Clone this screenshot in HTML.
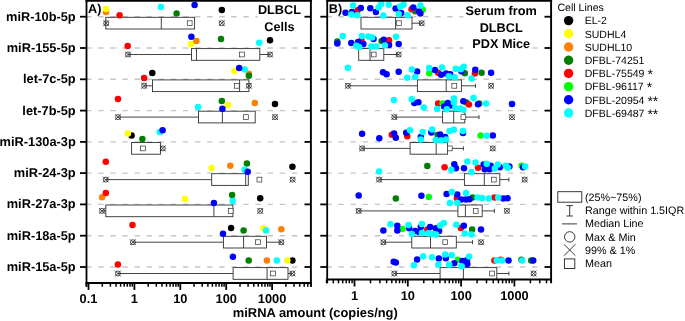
<!DOCTYPE html>
<html><head><meta charset="utf-8"><title>miRNA amount</title>
<style>html,body{margin:0;padding:0;background:#fff;overflow:hidden}body{width:685px;height:321px;position:relative}</style></head>
<body>
<svg text-rendering="geometricPrecision" width="685" height="321" viewBox="0 0 685 321" style="display:block;position:absolute;left:0;top:0;will-change:transform">
<rect width="685" height="321" fill="#fff"/>
<line x1="86.1" y1="16.7" x2="310.9" y2="16.7" stroke="#c6c6c6" stroke-width="1.4" stroke-dasharray="5.4 6.7"/>
<line x1="86.1" y1="48.0" x2="310.9" y2="48.0" stroke="#c6c6c6" stroke-width="1.4" stroke-dasharray="5.4 6.7"/>
<line x1="86.1" y1="79.3" x2="310.9" y2="79.3" stroke="#c6c6c6" stroke-width="1.4" stroke-dasharray="5.4 6.7"/>
<line x1="86.1" y1="110.6" x2="310.9" y2="110.6" stroke="#c6c6c6" stroke-width="1.4" stroke-dasharray="5.4 6.7"/>
<line x1="86.1" y1="141.9" x2="310.9" y2="141.9" stroke="#c6c6c6" stroke-width="1.4" stroke-dasharray="5.4 6.7"/>
<line x1="86.1" y1="173.1" x2="310.9" y2="173.1" stroke="#c6c6c6" stroke-width="1.4" stroke-dasharray="5.4 6.7"/>
<line x1="86.1" y1="204.4" x2="310.9" y2="204.4" stroke="#c6c6c6" stroke-width="1.4" stroke-dasharray="5.4 6.7"/>
<line x1="86.1" y1="235.7" x2="310.9" y2="235.7" stroke="#c6c6c6" stroke-width="1.4" stroke-dasharray="5.4 6.7"/>
<line x1="86.1" y1="267.0" x2="310.9" y2="267.0" stroke="#c6c6c6" stroke-width="1.4" stroke-dasharray="5.4 6.7"/>
<rect x="105.8" y="17.3" width="88.8" height="11.7" fill="#fff" stroke="#303030" stroke-width="0.9"/>
<line x1="161.3" y1="17.3" x2="161.3" y2="29.0" stroke="#303030" stroke-width="0.9"/>
<rect x="187.3" y="20.8" width="4.8" height="4.8" fill="#fff" stroke="#303030" stroke-width="0.7"/>
<g stroke="#1a1a1a" stroke-width="0.75" fill="none"><circle cx="106.2" cy="23.2" r="2.5"/><path d="M103.3 20.3L109.1 26.1M103.3 26.1L109.1 20.3"/></g>
<g stroke="#1a1a1a" stroke-width="0.75" fill="none"><circle cx="221.8" cy="23.2" r="2.5"/><path d="M218.9 20.3L224.7 26.1M218.9 26.1L224.7 20.3"/></g>
<line x1="128" y1="54.5" x2="191.5" y2="54.5" stroke="#303030" stroke-width="0.9"/>
<line x1="259.8" y1="54.5" x2="270" y2="54.5" stroke="#303030" stroke-width="0.9"/>
<rect x="191.5" y="48.6" width="68.3" height="11.7" fill="#fff" stroke="#303030" stroke-width="0.9"/>
<line x1="196.5" y1="48.6" x2="196.5" y2="60.3" stroke="#303030" stroke-width="0.9"/>
<rect x="239.6" y="52.1" width="4.8" height="4.8" fill="#fff" stroke="#303030" stroke-width="0.7"/>
<g stroke="#1a1a1a" stroke-width="0.75" fill="none"><circle cx="128" cy="54.5" r="2.5"/><path d="M125.1 51.6L130.9 57.4M125.1 57.4L130.9 51.6"/></g>
<g stroke="#1a1a1a" stroke-width="0.75" fill="none"><circle cx="270" cy="54.5" r="2.5"/><path d="M267.1 51.6L272.9 57.4M267.1 57.4L272.9 51.6"/></g>
<line x1="144.1" y1="85.8" x2="152.5" y2="85.8" stroke="#303030" stroke-width="0.9"/>
<rect x="152.5" y="79.9" width="96.4" height="11.7" fill="#fff" stroke="#303030" stroke-width="0.9"/>
<line x1="239.6" y1="79.9" x2="239.6" y2="91.6" stroke="#303030" stroke-width="0.9"/>
<rect x="234.4" y="83.4" width="4.8" height="4.8" fill="#fff" stroke="#303030" stroke-width="0.7"/>
<g stroke="#1a1a1a" stroke-width="0.75" fill="none"><circle cx="144.1" cy="85.8" r="2.5"/><path d="M141.2 82.9L147.0 88.7M141.2 88.7L147.0 82.9"/></g>
<g stroke="#1a1a1a" stroke-width="0.75" fill="none"><circle cx="248.9" cy="85.8" r="2.5"/><path d="M246.0 82.9L251.8 88.7M246.0 88.7L251.8 82.9"/></g>
<line x1="118" y1="117.1" x2="198.5" y2="117.1" stroke="#303030" stroke-width="0.9"/>
<rect x="198.5" y="111.2" width="56.7" height="11.7" fill="#fff" stroke="#303030" stroke-width="0.9"/>
<line x1="222.4" y1="111.2" x2="222.4" y2="122.9" stroke="#303030" stroke-width="0.9"/>
<rect x="243.5" y="114.7" width="4.8" height="4.8" fill="#fff" stroke="#303030" stroke-width="0.7"/>
<g stroke="#1a1a1a" stroke-width="0.75" fill="none"><circle cx="118" cy="117.1" r="2.5"/><path d="M115.1 114.2L120.9 120.0M115.1 120.0L120.9 114.2"/></g>
<g stroke="#1a1a1a" stroke-width="0.75" fill="none"><circle cx="275" cy="117.1" r="2.5"/><path d="M272.1 114.2L277.9 120.0M272.1 120.0L277.9 114.2"/></g>
<rect x="131.6" y="142.5" width="29.0" height="11.7" fill="#fff" stroke="#303030" stroke-width="0.9"/>
<rect x="140.6" y="146.0" width="4.8" height="4.8" fill="#fff" stroke="#303030" stroke-width="0.7"/>
<g stroke="#1a1a1a" stroke-width="0.75" fill="none"><circle cx="162.8" cy="148.4" r="2.5"/><path d="M159.9 145.5L165.7 151.3M159.9 151.3L165.7 145.5"/></g>
<line x1="105.8" y1="179.6" x2="211.7" y2="179.6" stroke="#303030" stroke-width="0.9"/>
<rect x="211.7" y="173.7" width="36.6" height="11.7" fill="#fff" stroke="#303030" stroke-width="0.9"/>
<line x1="245.7" y1="173.7" x2="245.7" y2="185.4" stroke="#303030" stroke-width="0.9"/>
<rect x="257.0" y="177.2" width="4.8" height="4.8" fill="#fff" stroke="#303030" stroke-width="0.7"/>
<g stroke="#1a1a1a" stroke-width="0.75" fill="none"><circle cx="105.8" cy="179.6" r="2.5"/><path d="M102.9 176.7L108.7 182.5M102.9 182.5L108.7 176.7"/></g>
<g stroke="#1a1a1a" stroke-width="0.75" fill="none"><circle cx="292.6" cy="179.6" r="2.5"/><path d="M289.7 176.7L295.5 182.5M289.7 182.5L295.5 176.7"/></g>
<line x1="102" y1="210.9" x2="105.8" y2="210.9" stroke="#303030" stroke-width="0.9"/>
<rect x="105.8" y="205.0" width="127.1" height="11.7" fill="#fff" stroke="#303030" stroke-width="0.9"/>
<line x1="213.9" y1="205.0" x2="213.9" y2="216.7" stroke="#303030" stroke-width="0.9"/>
<rect x="228.3" y="208.5" width="4.8" height="4.8" fill="#fff" stroke="#303030" stroke-width="0.7"/>
<g stroke="#1a1a1a" stroke-width="0.75" fill="none"><circle cx="102" cy="210.9" r="2.5"/><path d="M99.1 208.0L104.9 213.8M99.1 213.8L104.9 208.0"/></g>
<g stroke="#1a1a1a" stroke-width="0.75" fill="none"><circle cx="260.2" cy="210.9" r="2.5"/><path d="M257.3 208.0L263.1 213.8M257.3 213.8L263.1 208.0"/></g>
<line x1="132.9" y1="242.2" x2="223.4" y2="242.2" stroke="#303030" stroke-width="0.9"/>
<line x1="266.5" y1="242.2" x2="281.3" y2="242.2" stroke="#303030" stroke-width="0.9"/>
<rect x="223.4" y="236.3" width="43.1" height="11.7" fill="#fff" stroke="#303030" stroke-width="0.9"/>
<line x1="243.6" y1="236.3" x2="243.6" y2="248.0" stroke="#303030" stroke-width="0.9"/>
<rect x="255.6" y="239.8" width="4.8" height="4.8" fill="#fff" stroke="#303030" stroke-width="0.7"/>
<g stroke="#1a1a1a" stroke-width="0.75" fill="none"><circle cx="132.9" cy="242.2" r="2.5"/><path d="M130.0 239.3L135.8 245.1M130.0 245.1L135.8 239.3"/></g>
<g stroke="#1a1a1a" stroke-width="0.75" fill="none"><circle cx="281.3" cy="242.2" r="2.5"/><path d="M278.4 239.3L284.2 245.1M278.4 245.1L284.2 239.3"/></g>
<line x1="117.9" y1="273.5" x2="233.1" y2="273.5" stroke="#303030" stroke-width="0.9"/>
<line x1="288" y1="273.5" x2="292.4" y2="273.5" stroke="#303030" stroke-width="0.9"/>
<rect x="233.1" y="267.6" width="54.9" height="11.7" fill="#fff" stroke="#303030" stroke-width="0.9"/>
<line x1="267.1" y1="267.6" x2="267.1" y2="279.3" stroke="#303030" stroke-width="0.9"/>
<rect x="270.6" y="271.1" width="4.8" height="4.8" fill="#fff" stroke="#303030" stroke-width="0.7"/>
<g stroke="#1a1a1a" stroke-width="0.75" fill="none"><circle cx="117.9" cy="273.5" r="2.5"/><path d="M115.0 270.6L120.8 276.4M115.0 276.4L120.8 270.6"/></g>
<g stroke="#1a1a1a" stroke-width="0.75" fill="none"><circle cx="292.4" cy="273.5" r="2.5"/><path d="M289.5 270.6L295.3 276.4M289.5 276.4L295.3 270.6"/></g>
<circle cx="221.8" cy="10.1" r="3.25" fill="#000000"/>
<circle cx="106" cy="12.1" r="3.25" fill="#ff8000"/>
<circle cx="106" cy="8.9" r="3.25" fill="#ffff00"/>
<circle cx="176.6" cy="13.6" r="3.25" fill="#008000"/>
<circle cx="119.6" cy="15.3" r="3.25" fill="#ff0000"/>
<circle cx="160.9" cy="6.9" r="3.25" fill="#00ffff"/>
<circle cx="194.6" cy="5.0" r="3.25" fill="#0000ff"/>
<circle cx="270" cy="40.3" r="3.25" fill="#000000"/>
<circle cx="191" cy="44.1" r="3.25" fill="#ffff00"/>
<circle cx="196.4" cy="41.1" r="3.25" fill="#ff8000"/>
<circle cx="221" cy="39" r="3.25" fill="#008000"/>
<circle cx="127.7" cy="46" r="3.25" fill="#ff0000"/>
<circle cx="259.2" cy="42.7" r="3.25" fill="#00ffff"/>
<circle cx="191.4" cy="36.8" r="3.25" fill="#0000ff"/>
<circle cx="152.3" cy="72.9" r="3.25" fill="#000000"/>
<circle cx="234.5" cy="71.1" r="3.25" fill="#ffff00"/>
<circle cx="248.9" cy="73.8" r="3.25" fill="#ff8000"/>
<circle cx="248.9" cy="75.8" r="3.25" fill="#008000"/>
<circle cx="144.1" cy="78.1" r="3.25" fill="#ff0000"/>
<circle cx="244.7" cy="69.5" r="3.25" fill="#00ffff"/>
<circle cx="239.2" cy="67.9" r="3.25" fill="#0000ff"/>
<circle cx="275" cy="103.9" r="3.25" fill="#000000"/>
<circle cx="228" cy="105" r="3.25" fill="#ffff00"/>
<circle cx="254.8" cy="103.1" r="3.25" fill="#ff8000"/>
<circle cx="221.8" cy="101.1" r="3.25" fill="#008000"/>
<circle cx="118" cy="99.1" r="3.25" fill="#ff0000"/>
<circle cx="198.1" cy="107" r="3.25" fill="#00ffff"/>
<circle cx="222.4" cy="108.8" r="3.25" fill="#0000ff"/>
<circle cx="131.6" cy="135.5" r="3.25" fill="#000000"/>
<circle cx="127.9" cy="133.6" r="3.25" fill="#ffff00"/>
<circle cx="142.4" cy="138.9" r="3.25" fill="#008000"/>
<circle cx="159.8" cy="132.1" r="3.25" fill="#00ffff"/>
<circle cx="162.6" cy="130.3" r="3.25" fill="#0000ff"/>
<circle cx="292.4" cy="166.8" r="3.25" fill="#000000"/>
<circle cx="211.5" cy="168" r="3.25" fill="#ffff00"/>
<circle cx="230.3" cy="165.7" r="3.25" fill="#ff8000"/>
<circle cx="246.9" cy="163.5" r="3.25" fill="#008000"/>
<circle cx="105.8" cy="161.7" r="3.25" fill="#ff0000"/>
<circle cx="244.7" cy="169.8" r="3.25" fill="#00ffff"/>
<circle cx="247.7" cy="171.8" r="3.25" fill="#0000ff"/>
<circle cx="260.2" cy="198.2" r="3.25" fill="#000000"/>
<circle cx="185" cy="199.1" r="3.25" fill="#ffff00"/>
<circle cx="102.1" cy="197.2" r="3.25" fill="#ff8000"/>
<circle cx="232.1" cy="195" r="3.25" fill="#008000"/>
<circle cx="105.8" cy="193.1" r="3.25" fill="#ff0000"/>
<circle cx="232.7" cy="201" r="3.25" fill="#00ffff"/>
<circle cx="213.9" cy="202.9" r="3.25" fill="#0000ff"/>
<circle cx="231.1" cy="228" r="3.25" fill="#000000"/>
<circle cx="263.5" cy="228.2" r="3.25" fill="#ffff00"/>
<circle cx="281.3" cy="229.2" r="3.25" fill="#ff8000"/>
<circle cx="243.6" cy="230.6" r="3.25" fill="#008000"/>
<circle cx="132.5" cy="225" r="3.25" fill="#ff0000"/>
<circle cx="266.1" cy="230.6" r="3.25" fill="#00ffff"/>
<circle cx="223" cy="233.8" r="3.25" fill="#0000ff"/>
<circle cx="292.4" cy="260.6" r="3.25" fill="#000000"/>
<circle cx="287.4" cy="260.6" r="3.25" fill="#ffff00"/>
<circle cx="266.9" cy="260.6" r="3.25" fill="#ff8000"/>
<circle cx="248.7" cy="260.6" r="3.25" fill="#008000"/>
<circle cx="117.9" cy="264.6" r="3.25" fill="#ff0000"/>
<circle cx="276.8" cy="260.6" r="3.25" fill="#00ffff"/>
<circle cx="232.9" cy="256.7" r="3.25" fill="#0000ff"/>
<rect x="257.6" y="3" width="46.5" height="34" fill="#fff"/>
<line x1="326.3" y1="16.7" x2="551.1" y2="16.7" stroke="#c6c6c6" stroke-width="1.4" stroke-dasharray="5.4 6.7"/>
<line x1="326.3" y1="48.0" x2="551.1" y2="48.0" stroke="#c6c6c6" stroke-width="1.4" stroke-dasharray="5.4 6.7"/>
<line x1="326.3" y1="79.3" x2="551.1" y2="79.3" stroke="#c6c6c6" stroke-width="1.4" stroke-dasharray="5.4 6.7"/>
<line x1="326.3" y1="110.6" x2="551.1" y2="110.6" stroke="#c6c6c6" stroke-width="1.4" stroke-dasharray="5.4 6.7"/>
<line x1="326.3" y1="141.9" x2="551.1" y2="141.9" stroke="#c6c6c6" stroke-width="1.4" stroke-dasharray="5.4 6.7"/>
<line x1="326.3" y1="173.1" x2="551.1" y2="173.1" stroke="#c6c6c6" stroke-width="1.4" stroke-dasharray="5.4 6.7"/>
<line x1="326.3" y1="204.4" x2="551.1" y2="204.4" stroke="#c6c6c6" stroke-width="1.4" stroke-dasharray="5.4 6.7"/>
<line x1="326.3" y1="235.7" x2="551.1" y2="235.7" stroke="#c6c6c6" stroke-width="1.4" stroke-dasharray="5.4 6.7"/>
<line x1="326.3" y1="267.0" x2="551.1" y2="267.0" stroke="#c6c6c6" stroke-width="1.4" stroke-dasharray="5.4 6.7"/>
<line x1="412" y1="23.2" x2="421.7" y2="23.2" stroke="#303030" stroke-width="0.9"/>
<rect x="361" y="17.3" width="51.0" height="11.7" fill="#fff" stroke="#303030" stroke-width="0.9"/>
<line x1="395.6" y1="17.3" x2="395.6" y2="29.0" stroke="#303030" stroke-width="0.9"/>
<rect x="396.5" y="20.8" width="4.8" height="4.8" fill="#fff" stroke="#303030" stroke-width="0.7"/>
<g stroke="#1a1a1a" stroke-width="0.75" fill="none"><circle cx="421.7" cy="23.2" r="2.5"/><path d="M418.8 20.3L424.6 26.1M418.8 26.1L424.6 20.3"/></g>
<line x1="383.8" y1="54.5" x2="398.7" y2="54.5" stroke="#303030" stroke-width="0.9"/>
<rect x="358.7" y="48.6" width="25.1" height="11.7" fill="#fff" stroke="#303030" stroke-width="0.9"/>
<line x1="370" y1="48.6" x2="370" y2="60.3" stroke="#303030" stroke-width="0.9"/>
<rect x="371.3" y="52.1" width="4.8" height="4.8" fill="#fff" stroke="#303030" stroke-width="0.7"/>
<g stroke="#1a1a1a" stroke-width="0.75" fill="none"><circle cx="398.7" cy="54.5" r="2.5"/><path d="M395.8 51.6L401.6 57.4M395.8 57.4L401.6 51.6"/></g>
<line x1="347.9" y1="85.8" x2="417.4" y2="85.8" stroke="#303030" stroke-width="0.9"/>
<line x1="461.4" y1="85.8" x2="475.5" y2="85.8" stroke="#303030" stroke-width="0.9"/>
<line x1="475.5" y1="83.8" x2="475.5" y2="87.8" stroke="#303030" stroke-width="0.9"/>
<rect x="417.4" y="79.9" width="44.0" height="11.7" fill="#fff" stroke="#303030" stroke-width="0.9"/>
<line x1="446.2" y1="79.9" x2="446.2" y2="91.6" stroke="#303030" stroke-width="0.9"/>
<rect x="451.9" y="83.4" width="4.8" height="4.8" fill="#fff" stroke="#303030" stroke-width="0.7"/>
<g stroke="#1a1a1a" stroke-width="0.75" fill="none"><circle cx="347.9" cy="85.8" r="2.5"/><path d="M345.0 82.9L350.8 88.7M345.0 88.7L350.8 82.9"/></g>
<g stroke="#1a1a1a" stroke-width="0.75" fill="none"><circle cx="491.1" cy="85.8" r="2.5"/><path d="M488.2 82.9L494.0 88.7M488.2 88.7L494.0 82.9"/></g>
<line x1="394.3" y1="117.1" x2="442.6" y2="117.1" stroke="#303030" stroke-width="0.9"/>
<line x1="464.8" y1="117.1" x2="479" y2="117.1" stroke="#303030" stroke-width="0.9"/>
<line x1="479" y1="115.1" x2="479" y2="119.1" stroke="#303030" stroke-width="0.9"/>
<rect x="442.6" y="111.2" width="22.2" height="11.7" fill="#fff" stroke="#303030" stroke-width="0.9"/>
<line x1="453.7" y1="111.2" x2="453.7" y2="122.9" stroke="#303030" stroke-width="0.9"/>
<rect x="461.0" y="114.7" width="4.8" height="4.8" fill="#fff" stroke="#303030" stroke-width="0.7"/>
<g stroke="#1a1a1a" stroke-width="0.75" fill="none"><circle cx="394.3" cy="117.1" r="2.5"/><path d="M391.4 114.2L397.2 120.0M391.4 120.0L397.2 114.2"/></g>
<g stroke="#1a1a1a" stroke-width="0.75" fill="none"><circle cx="512" cy="117.1" r="2.5"/><path d="M509.1 114.2L514.9 120.0M509.1 120.0L514.9 114.2"/></g>
<line x1="362.1" y1="148.4" x2="410.1" y2="148.4" stroke="#303030" stroke-width="0.9"/>
<line x1="447.6" y1="148.4" x2="463.4" y2="148.4" stroke="#303030" stroke-width="0.9"/>
<line x1="463.4" y1="146.4" x2="463.4" y2="150.4" stroke="#303030" stroke-width="0.9"/>
<rect x="410.1" y="142.5" width="37.5" height="11.7" fill="#fff" stroke="#303030" stroke-width="0.9"/>
<line x1="436.2" y1="142.5" x2="436.2" y2="154.2" stroke="#303030" stroke-width="0.9"/>
<rect x="447.4" y="146.0" width="4.8" height="4.8" fill="#fff" stroke="#303030" stroke-width="0.7"/>
<g stroke="#1a1a1a" stroke-width="0.75" fill="none"><circle cx="362.1" cy="148.4" r="2.5"/><path d="M359.2 145.5L365.0 151.3M359.2 151.3L365.0 145.5"/></g>
<g stroke="#1a1a1a" stroke-width="0.75" fill="none"><circle cx="492.8" cy="148.4" r="2.5"/><path d="M489.9 145.5L495.7 151.3M489.9 151.3L495.7 145.5"/></g>
<line x1="379.1" y1="179.6" x2="464.4" y2="179.6" stroke="#303030" stroke-width="0.9"/>
<line x1="499.8" y1="179.6" x2="508.9" y2="179.6" stroke="#303030" stroke-width="0.9"/>
<line x1="508.9" y1="177.6" x2="508.9" y2="181.6" stroke="#303030" stroke-width="0.9"/>
<rect x="464.4" y="173.7" width="35.4" height="11.7" fill="#fff" stroke="#303030" stroke-width="0.9"/>
<line x1="484.3" y1="173.7" x2="484.3" y2="185.4" stroke="#303030" stroke-width="0.9"/>
<rect x="491.4" y="177.2" width="4.8" height="4.8" fill="#fff" stroke="#303030" stroke-width="0.7"/>
<g stroke="#1a1a1a" stroke-width="0.75" fill="none"><circle cx="379.1" cy="179.6" r="2.5"/><path d="M376.2 176.7L382.0 182.5M376.2 182.5L382.0 176.7"/></g>
<g stroke="#1a1a1a" stroke-width="0.75" fill="none"><circle cx="524.7" cy="179.6" r="2.5"/><path d="M521.8 176.7L527.6 182.5M521.8 182.5L527.6 176.7"/></g>
<line x1="358.7" y1="210.9" x2="457.9" y2="210.9" stroke="#303030" stroke-width="0.9"/>
<line x1="482.2" y1="210.9" x2="494.4" y2="210.9" stroke="#303030" stroke-width="0.9"/>
<line x1="494.4" y1="208.9" x2="494.4" y2="212.9" stroke="#303030" stroke-width="0.9"/>
<rect x="457.9" y="205.0" width="24.3" height="11.7" fill="#fff" stroke="#303030" stroke-width="0.9"/>
<line x1="465.4" y1="205.0" x2="465.4" y2="216.7" stroke="#303030" stroke-width="0.9"/>
<rect x="473.3" y="208.5" width="4.8" height="4.8" fill="#fff" stroke="#303030" stroke-width="0.7"/>
<g stroke="#1a1a1a" stroke-width="0.75" fill="none"><circle cx="358.7" cy="210.9" r="2.5"/><path d="M355.8 208.0L361.6 213.8M355.8 213.8L361.6 208.0"/></g>
<g stroke="#1a1a1a" stroke-width="0.75" fill="none"><circle cx="506.9" cy="210.9" r="2.5"/><path d="M504.0 208.0L509.8 213.8M504.0 213.8L509.8 208.0"/></g>
<line x1="383.4" y1="242.2" x2="411.8" y2="242.2" stroke="#303030" stroke-width="0.9"/>
<line x1="456.3" y1="242.2" x2="472.5" y2="242.2" stroke="#303030" stroke-width="0.9"/>
<line x1="472.5" y1="240.2" x2="472.5" y2="244.2" stroke="#303030" stroke-width="0.9"/>
<rect x="411.8" y="236.3" width="44.5" height="11.7" fill="#fff" stroke="#303030" stroke-width="0.9"/>
<line x1="430.5" y1="236.3" x2="430.5" y2="248.0" stroke="#303030" stroke-width="0.9"/>
<rect x="442.8" y="239.8" width="4.8" height="4.8" fill="#fff" stroke="#303030" stroke-width="0.7"/>
<g stroke="#1a1a1a" stroke-width="0.75" fill="none"><circle cx="383.4" cy="242.2" r="2.5"/><path d="M380.5 239.3L386.3 245.1M380.5 245.1L386.3 239.3"/></g>
<g stroke="#1a1a1a" stroke-width="0.75" fill="none"><circle cx="481" cy="242.2" r="2.5"/><path d="M478.1 239.3L483.9 245.1M478.1 245.1L483.9 239.3"/></g>
<line x1="394.3" y1="273.5" x2="440.1" y2="273.5" stroke="#303030" stroke-width="0.9"/>
<line x1="496.8" y1="273.5" x2="508.9" y2="273.5" stroke="#303030" stroke-width="0.9"/>
<line x1="508.9" y1="271.5" x2="508.9" y2="275.5" stroke="#303030" stroke-width="0.9"/>
<rect x="440.1" y="267.6" width="56.7" height="11.7" fill="#fff" stroke="#303030" stroke-width="0.9"/>
<line x1="463.4" y1="267.6" x2="463.4" y2="279.3" stroke="#303030" stroke-width="0.9"/>
<rect x="489.7" y="271.1" width="4.8" height="4.8" fill="#fff" stroke="#303030" stroke-width="0.7"/>
<g stroke="#1a1a1a" stroke-width="0.75" fill="none"><circle cx="394.3" cy="273.5" r="2.5"/><path d="M391.4 270.6L397.2 276.4M391.4 276.4L397.2 270.6"/></g>
<g stroke="#1a1a1a" stroke-width="0.75" fill="none"><circle cx="533.6" cy="273.5" r="2.5"/><path d="M530.7 270.6L536.5 276.4M530.7 276.4L536.5 270.6"/></g>
<circle cx="415.2" cy="11.2" r="3.25" fill="#008000"/>
<circle cx="357.6" cy="10.3" r="3.25" fill="#ff0000"/>
<circle cx="411.5" cy="9.3" r="3.25" fill="#ff0000"/>
<circle cx="422.7" cy="9.7" r="3.25" fill="#00ff00"/>
<circle cx="345.5" cy="12.7" r="3.25" fill="#0000ff"/>
<circle cx="352" cy="12.1" r="3.25" fill="#0000ff"/>
<circle cx="360.8" cy="7.9" r="3.25" fill="#0000ff"/>
<circle cx="370.3" cy="8.2" r="3.25" fill="#0000ff"/>
<circle cx="375.9" cy="12.1" r="3.25" fill="#0000ff"/>
<circle cx="395.6" cy="8.4" r="3.25" fill="#0000ff"/>
<circle cx="401.2" cy="13.1" r="3.25" fill="#0000ff"/>
<circle cx="413.3" cy="7.5" r="3.25" fill="#0000ff"/>
<circle cx="419" cy="11.6" r="3.25" fill="#0000ff"/>
<circle cx="420.4" cy="13.5" r="3.25" fill="#0000ff"/>
<circle cx="353.1" cy="5.6" r="3.25" fill="#00ffff"/>
<circle cx="351.3" cy="14.6" r="3.25" fill="#00ffff"/>
<circle cx="357.4" cy="15.3" r="3.25" fill="#00ffff"/>
<circle cx="378.7" cy="7.5" r="3.25" fill="#00ffff"/>
<circle cx="381.2" cy="4.1" r="3.25" fill="#00ffff"/>
<circle cx="388.7" cy="4.7" r="3.25" fill="#00ffff"/>
<circle cx="383.4" cy="15.5" r="3.25" fill="#00ffff"/>
<circle cx="400.2" cy="6.5" r="3.25" fill="#00ffff"/>
<circle cx="403.6" cy="4.7" r="3.25" fill="#00ffff"/>
<circle cx="398.7" cy="14" r="3.25" fill="#00ffff"/>
<circle cx="407.7" cy="15.3" r="3.25" fill="#00ffff"/>
<circle cx="420.4" cy="5.6" r="3.25" fill="#00ffff"/>
<circle cx="337.3" cy="41.5" r="3.25" fill="#008000"/>
<circle cx="381.6" cy="41.1" r="3.25" fill="#008000"/>
<circle cx="361.4" cy="40.2" r="3.25" fill="#ff0000"/>
<circle cx="389" cy="40.2" r="3.25" fill="#ff0000"/>
<circle cx="337.3" cy="43.4" r="3.25" fill="#0000ff"/>
<circle cx="351.3" cy="43" r="3.25" fill="#0000ff"/>
<circle cx="358.2" cy="42.1" r="3.25" fill="#0000ff"/>
<circle cx="363.4" cy="43.9" r="3.25" fill="#0000ff"/>
<circle cx="373.5" cy="38.9" r="3.25" fill="#0000ff"/>
<circle cx="383.8" cy="39.8" r="3.25" fill="#0000ff"/>
<circle cx="389" cy="44.9" r="3.25" fill="#0000ff"/>
<circle cx="398.7" cy="44.1" r="3.25" fill="#0000ff"/>
<circle cx="342.7" cy="35.9" r="3.25" fill="#00ffff"/>
<circle cx="361.9" cy="35.9" r="3.25" fill="#00ffff"/>
<circle cx="356.3" cy="45.8" r="3.25" fill="#00ffff"/>
<circle cx="359.1" cy="47.1" r="3.25" fill="#00ffff"/>
<circle cx="368.5" cy="36.4" r="3.25" fill="#00ffff"/>
<circle cx="372.2" cy="37.4" r="3.25" fill="#00ffff"/>
<circle cx="371.3" cy="46.4" r="3.25" fill="#00ffff"/>
<circle cx="376.3" cy="46.4" r="3.25" fill="#00ffff"/>
<circle cx="384.9" cy="45.4" r="3.25" fill="#00ffff"/>
<circle cx="396" cy="36.8" r="3.25" fill="#00ffff"/>
<circle cx="464.8" cy="73.2" r="3.25" fill="#008000"/>
<circle cx="481.6" cy="72.8" r="3.25" fill="#008000"/>
<circle cx="438.1" cy="72.7" r="3.25" fill="#ff0000"/>
<circle cx="474.9" cy="73.6" r="3.25" fill="#ff0000"/>
<circle cx="429.2" cy="73.3" r="3.25" fill="#00ff00"/>
<circle cx="383" cy="72.2" r="3.25" fill="#0000ff"/>
<circle cx="386.6" cy="74.3" r="3.25" fill="#0000ff"/>
<circle cx="398.7" cy="71.8" r="3.25" fill="#0000ff"/>
<circle cx="417.1" cy="71.4" r="3.25" fill="#0000ff"/>
<circle cx="434.9" cy="69.9" r="3.25" fill="#0000ff"/>
<circle cx="441.1" cy="74.8" r="3.25" fill="#0000ff"/>
<circle cx="446.2" cy="73.6" r="3.25" fill="#0000ff"/>
<circle cx="450.2" cy="74.2" r="3.25" fill="#0000ff"/>
<circle cx="461.4" cy="71.2" r="3.25" fill="#0000ff"/>
<circle cx="475.3" cy="69.8" r="3.25" fill="#0000ff"/>
<circle cx="491.1" cy="72.8" r="3.25" fill="#0000ff"/>
<circle cx="347.9" cy="67.7" r="3.25" fill="#00ffff"/>
<circle cx="411.8" cy="69.4" r="3.25" fill="#00ffff"/>
<circle cx="407.3" cy="77.8" r="3.25" fill="#00ffff"/>
<circle cx="415.2" cy="77.1" r="3.25" fill="#00ffff"/>
<circle cx="429.2" cy="68.1" r="3.25" fill="#00ffff"/>
<circle cx="442.1" cy="67.6" r="3.25" fill="#00ffff"/>
<circle cx="448.8" cy="76.3" r="3.25" fill="#00ffff"/>
<circle cx="454.7" cy="77.3" r="3.25" fill="#00ffff"/>
<circle cx="455.7" cy="68.8" r="3.25" fill="#00ffff"/>
<circle cx="460.8" cy="69.2" r="3.25" fill="#00ffff"/>
<circle cx="463.8" cy="66.7" r="3.25" fill="#00ffff"/>
<circle cx="471.5" cy="78.5" r="3.25" fill="#00ffff"/>
<circle cx="466.4" cy="102.6" r="3.25" fill="#008000"/>
<circle cx="479.2" cy="103.6" r="3.25" fill="#008000"/>
<circle cx="438.2" cy="103.4" r="3.25" fill="#ff0000"/>
<circle cx="468.9" cy="104.6" r="3.25" fill="#ff0000"/>
<circle cx="442.6" cy="103.6" r="3.25" fill="#00ff00"/>
<circle cx="414.3" cy="103" r="3.25" fill="#0000ff"/>
<circle cx="418.4" cy="102.3" r="3.25" fill="#0000ff"/>
<circle cx="444.2" cy="106.6" r="3.25" fill="#0000ff"/>
<circle cx="447.8" cy="103" r="3.25" fill="#0000ff"/>
<circle cx="450.9" cy="105.6" r="3.25" fill="#0000ff"/>
<circle cx="463.4" cy="101.2" r="3.25" fill="#0000ff"/>
<circle cx="478" cy="104.2" r="3.25" fill="#0000ff"/>
<circle cx="512" cy="104" r="3.25" fill="#0000ff"/>
<circle cx="393.9" cy="100" r="3.25" fill="#00ffff"/>
<circle cx="411.8" cy="99.3" r="3.25" fill="#00ffff"/>
<circle cx="423.8" cy="107.5" r="3.25" fill="#00ffff"/>
<circle cx="437.2" cy="109" r="3.25" fill="#00ffff"/>
<circle cx="446.8" cy="109.3" r="3.25" fill="#00ffff"/>
<circle cx="453.9" cy="98.5" r="3.25" fill="#00ffff"/>
<circle cx="453.9" cy="102.6" r="3.25" fill="#00ffff"/>
<circle cx="455.3" cy="108" r="3.25" fill="#00ffff"/>
<circle cx="460.4" cy="108.6" r="3.25" fill="#00ffff"/>
<circle cx="463.4" cy="109.7" r="3.25" fill="#00ffff"/>
<circle cx="473.5" cy="97.9" r="3.25" fill="#00ffff"/>
<circle cx="486.1" cy="103.6" r="3.25" fill="#00ffff"/>
<circle cx="437.6" cy="135" r="3.25" fill="#008000"/>
<circle cx="391.8" cy="134.7" r="3.25" fill="#ff0000"/>
<circle cx="407.3" cy="136.2" r="3.25" fill="#ff0000"/>
<circle cx="480.6" cy="135.4" r="3.25" fill="#00ff00"/>
<circle cx="362.1" cy="133.7" r="3.25" fill="#0000ff"/>
<circle cx="379.3" cy="138.2" r="3.25" fill="#0000ff"/>
<circle cx="394.1" cy="133.4" r="3.25" fill="#0000ff"/>
<circle cx="395.8" cy="137.7" r="3.25" fill="#0000ff"/>
<circle cx="406.2" cy="132.8" r="3.25" fill="#0000ff"/>
<circle cx="420.8" cy="137.1" r="3.25" fill="#0000ff"/>
<circle cx="431.3" cy="132.4" r="3.25" fill="#0000ff"/>
<circle cx="440.1" cy="134.4" r="3.25" fill="#0000ff"/>
<circle cx="445.2" cy="137" r="3.25" fill="#0000ff"/>
<circle cx="463" cy="132.9" r="3.25" fill="#0000ff"/>
<circle cx="492.8" cy="135.4" r="3.25" fill="#0000ff"/>
<circle cx="410" cy="130.2" r="3.25" fill="#00ffff"/>
<circle cx="422.7" cy="131.9" r="3.25" fill="#00ffff"/>
<circle cx="420.8" cy="139.5" r="3.25" fill="#00ffff"/>
<circle cx="432.2" cy="129.5" r="3.25" fill="#00ffff"/>
<circle cx="435.8" cy="139.9" r="3.25" fill="#00ffff"/>
<circle cx="441.1" cy="140.4" r="3.25" fill="#00ffff"/>
<circle cx="446.2" cy="139.4" r="3.25" fill="#00ffff"/>
<circle cx="449.6" cy="130.9" r="3.25" fill="#00ffff"/>
<circle cx="453.9" cy="129.7" r="3.25" fill="#00ffff"/>
<circle cx="463" cy="130.9" r="3.25" fill="#00ffff"/>
<circle cx="486.7" cy="135.8" r="3.25" fill="#00ffff"/>
<circle cx="427.3" cy="166" r="3.25" fill="#008000"/>
<circle cx="444.6" cy="167.2" r="3.25" fill="#ff0000"/>
<circle cx="478" cy="167.8" r="3.25" fill="#ff0000"/>
<circle cx="521.7" cy="165.8" r="3.25" fill="#00ff00"/>
<circle cx="454.3" cy="164.2" r="3.25" fill="#0000ff"/>
<circle cx="455.9" cy="168.2" r="3.25" fill="#0000ff"/>
<circle cx="464" cy="168.2" r="3.25" fill="#0000ff"/>
<circle cx="483.6" cy="164.6" r="3.25" fill="#0000ff"/>
<circle cx="484.7" cy="169.2" r="3.25" fill="#0000ff"/>
<circle cx="490.7" cy="165.8" r="3.25" fill="#0000ff"/>
<circle cx="489.7" cy="169.2" r="3.25" fill="#0000ff"/>
<circle cx="499.8" cy="167.2" r="3.25" fill="#0000ff"/>
<circle cx="509.4" cy="166.6" r="3.25" fill="#0000ff"/>
<circle cx="523.1" cy="167.2" r="3.25" fill="#0000ff"/>
<circle cx="379.1" cy="171.4" r="3.25" fill="#00ffff"/>
<circle cx="451.3" cy="169.8" r="3.25" fill="#00ffff"/>
<circle cx="467.4" cy="161.5" r="3.25" fill="#00ffff"/>
<circle cx="471.5" cy="171.9" r="3.25" fill="#00ffff"/>
<circle cx="475.5" cy="162.6" r="3.25" fill="#00ffff"/>
<circle cx="486.7" cy="163.8" r="3.25" fill="#00ffff"/>
<circle cx="494.8" cy="168.6" r="3.25" fill="#00ffff"/>
<circle cx="497.8" cy="164.6" r="3.25" fill="#00ffff"/>
<circle cx="505.9" cy="165.8" r="3.25" fill="#00ffff"/>
<circle cx="507.9" cy="167.8" r="3.25" fill="#00ffff"/>
<circle cx="525.1" cy="166.6" r="3.25" fill="#00ffff"/>
<circle cx="395.8" cy="198.4" r="3.25" fill="#008000"/>
<circle cx="472.5" cy="197.6" r="3.25" fill="#008000"/>
<circle cx="456.9" cy="198.2" r="3.25" fill="#ff0000"/>
<circle cx="494.4" cy="197.6" r="3.25" fill="#ff0000"/>
<circle cx="428.8" cy="197.1" r="3.25" fill="#00ff00"/>
<circle cx="358.7" cy="195.4" r="3.25" fill="#0000ff"/>
<circle cx="421.4" cy="195.7" r="3.25" fill="#0000ff"/>
<circle cx="446.6" cy="194.1" r="3.25" fill="#0000ff"/>
<circle cx="457.3" cy="194.5" r="3.25" fill="#0000ff"/>
<circle cx="461.4" cy="199.6" r="3.25" fill="#0000ff"/>
<circle cx="466" cy="199.6" r="3.25" fill="#0000ff"/>
<circle cx="469.5" cy="199.2" r="3.25" fill="#0000ff"/>
<circle cx="503.3" cy="198.6" r="3.25" fill="#0000ff"/>
<circle cx="507.5" cy="198.2" r="3.25" fill="#0000ff"/>
<circle cx="451.9" cy="192.1" r="3.25" fill="#00ffff"/>
<circle cx="449.8" cy="203" r="3.25" fill="#00ffff"/>
<circle cx="457.3" cy="203" r="3.25" fill="#00ffff"/>
<circle cx="466" cy="192.9" r="3.25" fill="#00ffff"/>
<circle cx="477.6" cy="197.6" r="3.25" fill="#00ffff"/>
<circle cx="482.2" cy="198" r="3.25" fill="#00ffff"/>
<circle cx="488.7" cy="198.6" r="3.25" fill="#00ffff"/>
<circle cx="498.2" cy="197.6" r="3.25" fill="#00ffff"/>
<circle cx="472.1" cy="229.4" r="3.25" fill="#008000"/>
<circle cx="427.3" cy="229.6" r="3.25" fill="#ff0000"/>
<circle cx="460.8" cy="228" r="3.25" fill="#ff0000"/>
<circle cx="402.5" cy="229" r="3.25" fill="#00ff00"/>
<circle cx="383.4" cy="230.5" r="3.25" fill="#0000ff"/>
<circle cx="397.3" cy="225.8" r="3.25" fill="#0000ff"/>
<circle cx="397.3" cy="230.5" r="3.25" fill="#0000ff"/>
<circle cx="409.2" cy="228.3" r="3.25" fill="#0000ff"/>
<circle cx="415.2" cy="230.9" r="3.25" fill="#0000ff"/>
<circle cx="420.8" cy="227.1" r="3.25" fill="#0000ff"/>
<circle cx="418.9" cy="232" r="3.25" fill="#0000ff"/>
<circle cx="430.1" cy="227.1" r="3.25" fill="#0000ff"/>
<circle cx="435.8" cy="228.3" r="3.25" fill="#0000ff"/>
<circle cx="439.1" cy="231" r="3.25" fill="#0000ff"/>
<circle cx="463.8" cy="225.8" r="3.25" fill="#0000ff"/>
<circle cx="481" cy="229.4" r="3.25" fill="#0000ff"/>
<circle cx="390.5" cy="224.3" r="3.25" fill="#00ffff"/>
<circle cx="408.5" cy="224.9" r="3.25" fill="#00ffff"/>
<circle cx="411.8" cy="233.9" r="3.25" fill="#00ffff"/>
<circle cx="421.9" cy="224" r="3.25" fill="#00ffff"/>
<circle cx="421.9" cy="232.9" r="3.25" fill="#00ffff"/>
<circle cx="428.3" cy="233.3" r="3.25" fill="#00ffff"/>
<circle cx="432.4" cy="233.9" r="3.25" fill="#00ffff"/>
<circle cx="436.1" cy="234.6" r="3.25" fill="#00ffff"/>
<circle cx="440.1" cy="225.4" r="3.25" fill="#00ffff"/>
<circle cx="443.8" cy="222.9" r="3.25" fill="#00ffff"/>
<circle cx="456.3" cy="224.8" r="3.25" fill="#00ffff"/>
<circle cx="464.8" cy="233.5" r="3.25" fill="#00ffff"/>
<circle cx="471.5" cy="234.5" r="3.25" fill="#00ffff"/>
<circle cx="521.5" cy="259.8" r="3.25" fill="#008000"/>
<circle cx="531.2" cy="260.6" r="3.25" fill="#008000"/>
<circle cx="494.4" cy="260.6" r="3.25" fill="#ff0000"/>
<circle cx="500.9" cy="259.8" r="3.25" fill="#ff0000"/>
<circle cx="457.9" cy="259.8" r="3.25" fill="#00ff00"/>
<circle cx="393.7" cy="261.7" r="3.25" fill="#0000ff"/>
<circle cx="395.8" cy="262.4" r="3.25" fill="#0000ff"/>
<circle cx="417.1" cy="259.6" r="3.25" fill="#0000ff"/>
<circle cx="438.8" cy="258.6" r="3.25" fill="#0000ff"/>
<circle cx="445.8" cy="258.2" r="3.25" fill="#0000ff"/>
<circle cx="454.3" cy="263.3" r="3.25" fill="#0000ff"/>
<circle cx="462.4" cy="260.9" r="3.25" fill="#0000ff"/>
<circle cx="467" cy="260.2" r="3.25" fill="#0000ff"/>
<circle cx="467.4" cy="263.9" r="3.25" fill="#0000ff"/>
<circle cx="508.5" cy="260.6" r="3.25" fill="#0000ff"/>
<circle cx="533.2" cy="260.6" r="3.25" fill="#0000ff"/>
<circle cx="423.2" cy="256.3" r="3.25" fill="#00ffff"/>
<circle cx="413.9" cy="265.2" r="3.25" fill="#00ffff"/>
<circle cx="432" cy="257.2" r="3.25" fill="#00ffff"/>
<circle cx="438.4" cy="264.6" r="3.25" fill="#00ffff"/>
<circle cx="445.2" cy="254.6" r="3.25" fill="#00ffff"/>
<circle cx="451.7" cy="255.2" r="3.25" fill="#00ffff"/>
<circle cx="449.2" cy="264.7" r="3.25" fill="#00ffff"/>
<circle cx="469.1" cy="256.6" r="3.25" fill="#00ffff"/>
<circle cx="461.4" cy="266.3" r="3.25" fill="#00ffff"/>
<circle cx="496.8" cy="260.2" r="3.25" fill="#00ffff"/>
<circle cx="501.9" cy="260.6" r="3.25" fill="#00ffff"/>
<circle cx="522.3" cy="260.6" r="3.25" fill="#00ffff"/>
<rect x="463.4" y="3" width="77" height="34" fill="#fff"/><rect x="463.4" y="36" width="69.2" height="17" fill="#fff"/>
<line x1="86.5" y1="0" x2="86.5" y2="286.7" stroke="#000" stroke-width="1.8"/>
<line x1="310.9" y1="0" x2="310.9" y2="286.7" stroke="#000" stroke-width="1.9"/>
<line x1="85.6" y1="0.75" x2="311.84999999999997" y2="0.75" stroke="#000" stroke-width="1.75"/>
<line x1="85.6" y1="282.9" x2="311.84999999999997" y2="282.9" stroke="#000" stroke-width="2"/>
<line x1="327.2" y1="0" x2="327.2" y2="283.3" stroke="#000" stroke-width="1.8"/>
<line x1="551.1" y1="0" x2="551.1" y2="283.3" stroke="#000" stroke-width="1.9"/>
<line x1="326.3" y1="0.75" x2="552.0500000000001" y2="0.75" stroke="#000" stroke-width="1.75"/>
<line x1="326.3" y1="279.5" x2="552.0500000000001" y2="279.5" stroke="#000" stroke-width="2"/>
<line x1="80" y1="16.7" x2="86.5" y2="16.7" stroke="#000" stroke-width="1.8"/>
<line x1="304.6" y1="16.7" x2="310.9" y2="16.7" stroke="#000" stroke-width="1.8"/>
<line x1="320.3" y1="16.7" x2="327.2" y2="16.7" stroke="#000" stroke-width="1.8"/>
<line x1="544.6" y1="16.7" x2="551.1" y2="16.7" stroke="#000" stroke-width="1.8"/>
<line x1="80" y1="48.0" x2="86.5" y2="48.0" stroke="#000" stroke-width="1.8"/>
<line x1="304.6" y1="48.0" x2="310.9" y2="48.0" stroke="#000" stroke-width="1.8"/>
<line x1="320.3" y1="48.0" x2="327.2" y2="48.0" stroke="#000" stroke-width="1.8"/>
<line x1="544.6" y1="48.0" x2="551.1" y2="48.0" stroke="#000" stroke-width="1.8"/>
<line x1="80" y1="79.3" x2="86.5" y2="79.3" stroke="#000" stroke-width="1.8"/>
<line x1="304.6" y1="79.3" x2="310.9" y2="79.3" stroke="#000" stroke-width="1.8"/>
<line x1="320.3" y1="79.3" x2="327.2" y2="79.3" stroke="#000" stroke-width="1.8"/>
<line x1="544.6" y1="79.3" x2="551.1" y2="79.3" stroke="#000" stroke-width="1.8"/>
<line x1="80" y1="110.6" x2="86.5" y2="110.6" stroke="#000" stroke-width="1.8"/>
<line x1="304.6" y1="110.6" x2="310.9" y2="110.6" stroke="#000" stroke-width="1.8"/>
<line x1="320.3" y1="110.6" x2="327.2" y2="110.6" stroke="#000" stroke-width="1.8"/>
<line x1="544.6" y1="110.6" x2="551.1" y2="110.6" stroke="#000" stroke-width="1.8"/>
<line x1="80" y1="141.9" x2="86.5" y2="141.9" stroke="#000" stroke-width="1.8"/>
<line x1="304.6" y1="141.9" x2="310.9" y2="141.9" stroke="#000" stroke-width="1.8"/>
<line x1="320.3" y1="141.9" x2="327.2" y2="141.9" stroke="#000" stroke-width="1.8"/>
<line x1="544.6" y1="141.9" x2="551.1" y2="141.9" stroke="#000" stroke-width="1.8"/>
<line x1="80" y1="173.1" x2="86.5" y2="173.1" stroke="#000" stroke-width="1.8"/>
<line x1="304.6" y1="173.1" x2="310.9" y2="173.1" stroke="#000" stroke-width="1.8"/>
<line x1="320.3" y1="173.1" x2="327.2" y2="173.1" stroke="#000" stroke-width="1.8"/>
<line x1="544.6" y1="173.1" x2="551.1" y2="173.1" stroke="#000" stroke-width="1.8"/>
<line x1="80" y1="204.4" x2="86.5" y2="204.4" stroke="#000" stroke-width="1.8"/>
<line x1="304.6" y1="204.4" x2="310.9" y2="204.4" stroke="#000" stroke-width="1.8"/>
<line x1="320.3" y1="204.4" x2="327.2" y2="204.4" stroke="#000" stroke-width="1.8"/>
<line x1="544.6" y1="204.4" x2="551.1" y2="204.4" stroke="#000" stroke-width="1.8"/>
<line x1="80" y1="235.7" x2="86.5" y2="235.7" stroke="#000" stroke-width="1.8"/>
<line x1="304.6" y1="235.7" x2="310.9" y2="235.7" stroke="#000" stroke-width="1.8"/>
<line x1="320.3" y1="235.7" x2="327.2" y2="235.7" stroke="#000" stroke-width="1.8"/>
<line x1="544.6" y1="235.7" x2="551.1" y2="235.7" stroke="#000" stroke-width="1.8"/>
<line x1="80" y1="267.0" x2="86.5" y2="267.0" stroke="#000" stroke-width="1.8"/>
<line x1="304.6" y1="267.0" x2="310.9" y2="267.0" stroke="#000" stroke-width="1.8"/>
<line x1="320.3" y1="267.0" x2="327.2" y2="267.0" stroke="#000" stroke-width="1.8"/>
<line x1="544.6" y1="267.0" x2="551.1" y2="267.0" stroke="#000" stroke-width="1.8"/>
<line x1="86.4" y1="282.9" x2="86.4" y2="286.7" stroke="#000" stroke-width="1.5"/>
<line x1="88.5" y1="282.9" x2="88.5" y2="289.9" stroke="#000" stroke-width="1.8"/>
<line x1="102.3" y1="282.9" x2="102.3" y2="286.7" stroke="#000" stroke-width="1.5"/>
<line x1="110.4" y1="282.9" x2="110.4" y2="286.7" stroke="#000" stroke-width="1.5"/>
<line x1="116.1" y1="282.9" x2="116.1" y2="286.7" stroke="#000" stroke-width="1.5"/>
<line x1="120.6" y1="282.9" x2="120.6" y2="286.7" stroke="#000" stroke-width="1.5"/>
<line x1="124.2" y1="282.9" x2="124.2" y2="286.7" stroke="#000" stroke-width="1.5"/>
<line x1="127.3" y1="282.9" x2="127.3" y2="286.7" stroke="#000" stroke-width="1.5"/>
<line x1="130.0" y1="282.9" x2="130.0" y2="286.7" stroke="#000" stroke-width="1.5"/>
<line x1="132.3" y1="282.9" x2="132.3" y2="286.7" stroke="#000" stroke-width="1.5"/>
<line x1="134.4" y1="282.9" x2="134.4" y2="289.9" stroke="#000" stroke-width="1.8"/>
<line x1="148.2" y1="282.9" x2="148.2" y2="286.7" stroke="#000" stroke-width="1.5"/>
<line x1="156.3" y1="282.9" x2="156.3" y2="286.7" stroke="#000" stroke-width="1.5"/>
<line x1="162.0" y1="282.9" x2="162.0" y2="286.7" stroke="#000" stroke-width="1.5"/>
<line x1="166.5" y1="282.9" x2="166.5" y2="286.7" stroke="#000" stroke-width="1.5"/>
<line x1="170.1" y1="282.9" x2="170.1" y2="286.7" stroke="#000" stroke-width="1.5"/>
<line x1="173.2" y1="282.9" x2="173.2" y2="286.7" stroke="#000" stroke-width="1.5"/>
<line x1="175.9" y1="282.9" x2="175.9" y2="286.7" stroke="#000" stroke-width="1.5"/>
<line x1="178.2" y1="282.9" x2="178.2" y2="286.7" stroke="#000" stroke-width="1.5"/>
<line x1="180.3" y1="282.9" x2="180.3" y2="289.9" stroke="#000" stroke-width="1.8"/>
<line x1="194.1" y1="282.9" x2="194.1" y2="286.7" stroke="#000" stroke-width="1.5"/>
<line x1="202.2" y1="282.9" x2="202.2" y2="286.7" stroke="#000" stroke-width="1.5"/>
<line x1="207.9" y1="282.9" x2="207.9" y2="286.7" stroke="#000" stroke-width="1.5"/>
<line x1="212.4" y1="282.9" x2="212.4" y2="286.7" stroke="#000" stroke-width="1.5"/>
<line x1="216.0" y1="282.9" x2="216.0" y2="286.7" stroke="#000" stroke-width="1.5"/>
<line x1="219.1" y1="282.9" x2="219.1" y2="286.7" stroke="#000" stroke-width="1.5"/>
<line x1="221.8" y1="282.9" x2="221.8" y2="286.7" stroke="#000" stroke-width="1.5"/>
<line x1="224.1" y1="282.9" x2="224.1" y2="286.7" stroke="#000" stroke-width="1.5"/>
<line x1="226.2" y1="282.9" x2="226.2" y2="289.9" stroke="#000" stroke-width="1.8"/>
<line x1="240.0" y1="282.9" x2="240.0" y2="286.7" stroke="#000" stroke-width="1.5"/>
<line x1="248.1" y1="282.9" x2="248.1" y2="286.7" stroke="#000" stroke-width="1.5"/>
<line x1="253.8" y1="282.9" x2="253.8" y2="286.7" stroke="#000" stroke-width="1.5"/>
<line x1="258.3" y1="282.9" x2="258.3" y2="286.7" stroke="#000" stroke-width="1.5"/>
<line x1="261.9" y1="282.9" x2="261.9" y2="286.7" stroke="#000" stroke-width="1.5"/>
<line x1="265.0" y1="282.9" x2="265.0" y2="286.7" stroke="#000" stroke-width="1.5"/>
<line x1="267.7" y1="282.9" x2="267.7" y2="286.7" stroke="#000" stroke-width="1.5"/>
<line x1="270.0" y1="282.9" x2="270.0" y2="286.7" stroke="#000" stroke-width="1.5"/>
<line x1="272.1" y1="282.9" x2="272.1" y2="289.9" stroke="#000" stroke-width="1.8"/>
<line x1="285.9" y1="282.9" x2="285.9" y2="286.7" stroke="#000" stroke-width="1.5"/>
<line x1="294.0" y1="282.9" x2="294.0" y2="286.7" stroke="#000" stroke-width="1.5"/>
<line x1="299.7" y1="282.9" x2="299.7" y2="286.7" stroke="#000" stroke-width="1.5"/>
<line x1="304.2" y1="282.9" x2="304.2" y2="286.7" stroke="#000" stroke-width="1.5"/>
<line x1="307.8" y1="282.9" x2="307.8" y2="286.7" stroke="#000" stroke-width="1.5"/>
<line x1="310.9" y1="282.9" x2="310.9" y2="286.7" stroke="#000" stroke-width="1.5"/>
<line x1="326.6" y1="279.5" x2="326.6" y2="283.3" stroke="#000" stroke-width="1.5"/>
<line x1="333.3" y1="279.5" x2="333.3" y2="283.3" stroke="#000" stroke-width="1.5"/>
<line x1="338.5" y1="279.5" x2="338.5" y2="283.3" stroke="#000" stroke-width="1.5"/>
<line x1="342.7" y1="279.5" x2="342.7" y2="283.3" stroke="#000" stroke-width="1.5"/>
<line x1="346.2" y1="279.5" x2="346.2" y2="283.3" stroke="#000" stroke-width="1.5"/>
<line x1="349.3" y1="279.5" x2="349.3" y2="283.3" stroke="#000" stroke-width="1.5"/>
<line x1="352.1" y1="279.5" x2="352.1" y2="283.3" stroke="#000" stroke-width="1.5"/>
<line x1="354.5" y1="279.5" x2="354.5" y2="286.5" stroke="#000" stroke-width="1.8"/>
<line x1="370.5" y1="279.5" x2="370.5" y2="283.3" stroke="#000" stroke-width="1.5"/>
<line x1="379.9" y1="279.5" x2="379.9" y2="283.3" stroke="#000" stroke-width="1.5"/>
<line x1="386.6" y1="279.5" x2="386.6" y2="283.3" stroke="#000" stroke-width="1.5"/>
<line x1="391.8" y1="279.5" x2="391.8" y2="283.3" stroke="#000" stroke-width="1.5"/>
<line x1="396.0" y1="279.5" x2="396.0" y2="283.3" stroke="#000" stroke-width="1.5"/>
<line x1="399.5" y1="279.5" x2="399.5" y2="283.3" stroke="#000" stroke-width="1.5"/>
<line x1="402.6" y1="279.5" x2="402.6" y2="283.3" stroke="#000" stroke-width="1.5"/>
<line x1="405.4" y1="279.5" x2="405.4" y2="283.3" stroke="#000" stroke-width="1.5"/>
<line x1="407.8" y1="279.5" x2="407.8" y2="286.5" stroke="#000" stroke-width="1.8"/>
<line x1="423.8" y1="279.5" x2="423.8" y2="283.3" stroke="#000" stroke-width="1.5"/>
<line x1="433.2" y1="279.5" x2="433.2" y2="283.3" stroke="#000" stroke-width="1.5"/>
<line x1="439.9" y1="279.5" x2="439.9" y2="283.3" stroke="#000" stroke-width="1.5"/>
<line x1="445.1" y1="279.5" x2="445.1" y2="283.3" stroke="#000" stroke-width="1.5"/>
<line x1="449.3" y1="279.5" x2="449.3" y2="283.3" stroke="#000" stroke-width="1.5"/>
<line x1="452.8" y1="279.5" x2="452.8" y2="283.3" stroke="#000" stroke-width="1.5"/>
<line x1="455.9" y1="279.5" x2="455.9" y2="283.3" stroke="#000" stroke-width="1.5"/>
<line x1="458.7" y1="279.5" x2="458.7" y2="283.3" stroke="#000" stroke-width="1.5"/>
<line x1="461.1" y1="279.5" x2="461.1" y2="286.5" stroke="#000" stroke-width="1.8"/>
<line x1="477.1" y1="279.5" x2="477.1" y2="283.3" stroke="#000" stroke-width="1.5"/>
<line x1="486.5" y1="279.5" x2="486.5" y2="283.3" stroke="#000" stroke-width="1.5"/>
<line x1="493.2" y1="279.5" x2="493.2" y2="283.3" stroke="#000" stroke-width="1.5"/>
<line x1="498.4" y1="279.5" x2="498.4" y2="283.3" stroke="#000" stroke-width="1.5"/>
<line x1="502.6" y1="279.5" x2="502.6" y2="283.3" stroke="#000" stroke-width="1.5"/>
<line x1="506.1" y1="279.5" x2="506.1" y2="283.3" stroke="#000" stroke-width="1.5"/>
<line x1="509.2" y1="279.5" x2="509.2" y2="283.3" stroke="#000" stroke-width="1.5"/>
<line x1="512.0" y1="279.5" x2="512.0" y2="283.3" stroke="#000" stroke-width="1.5"/>
<line x1="514.4" y1="279.5" x2="514.4" y2="286.5" stroke="#000" stroke-width="1.8"/>
<line x1="530.4" y1="279.5" x2="530.4" y2="283.3" stroke="#000" stroke-width="1.5"/>
<line x1="539.8" y1="279.5" x2="539.8" y2="283.3" stroke="#000" stroke-width="1.5"/>
<line x1="546.5" y1="279.5" x2="546.5" y2="283.3" stroke="#000" stroke-width="1.5"/>
<text x="88.5" y="303" font-family="Liberation Sans, Arial, sans-serif" font-size="12.8" font-weight="bold" text-anchor="middle">0.1</text>
<text x="134.4" y="303" font-family="Liberation Sans, Arial, sans-serif" font-size="12.8" font-weight="bold" text-anchor="middle">1</text>
<text x="180.3" y="303" font-family="Liberation Sans, Arial, sans-serif" font-size="12.8" font-weight="bold" text-anchor="middle">10</text>
<text x="226.2" y="303" font-family="Liberation Sans, Arial, sans-serif" font-size="12.8" font-weight="bold" text-anchor="middle">100</text>
<text x="272.1" y="303" font-family="Liberation Sans, Arial, sans-serif" font-size="12.8" font-weight="bold" text-anchor="middle">1000</text>
<text x="354.5" y="299.5" font-family="Liberation Sans, Arial, sans-serif" font-size="12.8" font-weight="bold" text-anchor="middle">1</text>
<text x="407.8" y="299.5" font-family="Liberation Sans, Arial, sans-serif" font-size="12.8" font-weight="bold" text-anchor="middle">10</text>
<text x="461.1" y="299.5" font-family="Liberation Sans, Arial, sans-serif" font-size="12.8" font-weight="bold" text-anchor="middle">100</text>
<text x="514.4" y="299.5" font-family="Liberation Sans, Arial, sans-serif" font-size="12.8" font-weight="bold" text-anchor="middle">1000</text>
<text x="315.3" y="317.1" font-family="Liberation Sans, Arial, sans-serif" font-size="12.9" font-weight="bold" text-anchor="middle">miRNA amount (copies/ng)</text>
<text x="75.7" y="20.6" font-family="Liberation Sans, Arial, sans-serif" font-size="12.8" font-weight="bold" text-anchor="end">miR-10b-5p</text>
<text x="75.7" y="51.9" font-family="Liberation Sans, Arial, sans-serif" font-size="12.8" font-weight="bold" text-anchor="end">miR-155-5p</text>
<text x="75.7" y="83.2" font-family="Liberation Sans, Arial, sans-serif" font-size="12.8" font-weight="bold" text-anchor="end">let-7c-5p</text>
<text x="75.7" y="114.5" font-family="Liberation Sans, Arial, sans-serif" font-size="12.8" font-weight="bold" text-anchor="end">let-7b-5p</text>
<text x="75.7" y="145.8" font-family="Liberation Sans, Arial, sans-serif" font-size="12.8" font-weight="bold" text-anchor="end">miR-130a-3p</text>
<text x="75.7" y="177.0" font-family="Liberation Sans, Arial, sans-serif" font-size="12.8" font-weight="bold" text-anchor="end">miR-24-3p</text>
<text x="75.7" y="208.3" font-family="Liberation Sans, Arial, sans-serif" font-size="12.8" font-weight="bold" text-anchor="end">miR-27a-3p</text>
<text x="75.7" y="239.6" font-family="Liberation Sans, Arial, sans-serif" font-size="12.8" font-weight="bold" text-anchor="end">miR-18a-5p</text>
<text x="75.7" y="270.9" font-family="Liberation Sans, Arial, sans-serif" font-size="12.8" font-weight="bold" text-anchor="end">miR-15a-5p</text>
<text x="88.0" y="13.2" font-family="Liberation Sans, Arial, sans-serif" font-size="12.7" font-weight="bold">A)</text>
<text x="328.8" y="13.2" font-family="Liberation Sans, Arial, sans-serif" font-size="12.7" font-weight="bold">B)</text>
<text x="279.4" y="14.3" font-family="Liberation Sans, Arial, sans-serif" font-size="12.7" font-weight="bold" text-anchor="middle">DLBCL</text>
<text x="279.4" y="30.7" font-family="Liberation Sans, Arial, sans-serif" font-size="12.7" font-weight="bold" text-anchor="middle">Cells</text>
<text x="501.2" y="15.2" font-family="Liberation Sans, Arial, sans-serif" font-size="12.7" font-weight="bold" text-anchor="middle">Serum from</text>
<text x="501.2" y="31.6" font-family="Liberation Sans, Arial, sans-serif" font-size="12.7" font-weight="bold" text-anchor="middle">DLBCL</text>
<text x="501.2" y="48.0" font-family="Liberation Sans, Arial, sans-serif" font-size="12.7" font-weight="bold" text-anchor="middle">PDX Mice</text>
<text x="557.4" y="10.6" font-family="Liberation Sans, Arial, sans-serif" font-size="10.6">Cell Lines</text>
<circle cx="568.6" cy="20.6" r="4.7" fill="#000000"/>
<text x="584.7" y="24.3" font-family="Liberation Sans, Arial, sans-serif" font-size="10.55">EL-2</text>
<circle cx="568.6" cy="33.8" r="4.7" fill="#ffff00"/>
<text x="584.7" y="37.5" font-family="Liberation Sans, Arial, sans-serif" font-size="10.55">SUDHL4</text>
<circle cx="568.6" cy="47.0" r="4.7" fill="#ff8000"/>
<text x="584.7" y="50.7" font-family="Liberation Sans, Arial, sans-serif" font-size="10.55">SUDHL10</text>
<circle cx="568.6" cy="60.2" r="4.7" fill="#008000"/>
<text x="584.7" y="63.9" font-family="Liberation Sans, Arial, sans-serif" font-size="10.55">DFBL-74251</text>
<circle cx="568.6" cy="73.4" r="4.7" fill="#ff0000"/>
<text x="584.7" y="77.1" font-family="Liberation Sans, Arial, sans-serif" font-size="10.55">DFBL-75549 <tspan font-size="14" dy="2.1">*</tspan></text>
<circle cx="568.6" cy="86.6" r="4.7" fill="#00ff00"/>
<text x="584.7" y="90.3" font-family="Liberation Sans, Arial, sans-serif" font-size="10.55">DFBL-96117 <tspan font-size="14" dy="2.1">*</tspan></text>
<circle cx="568.6" cy="99.8" r="4.7" fill="#0000ff"/>
<text x="584.7" y="103.5" font-family="Liberation Sans, Arial, sans-serif" font-size="10.55">DFBL-20954 <tspan font-size="14" dy="2.1">**</tspan></text>
<circle cx="568.6" cy="113.0" r="4.7" fill="#00ffff"/>
<text x="584.7" y="116.7" font-family="Liberation Sans, Arial, sans-serif" font-size="10.55">DFBL-69487 <tspan font-size="14" dy="2.1">**</tspan></text>
<rect x="557.8" y="191.7" width="24" height="10.5" stroke="#222" stroke-width="0.9" fill="none"/>
<text x="585" y="201.2" font-family="Liberation Sans, Arial, sans-serif" font-size="10.75">(25%~75%)</text>
<path d="M566.5 205.6H572.9M569.7 205.6V216M566.5 216H572.9" stroke="#222" stroke-width="0.9" fill="none"/>
<text x="585" y="213.9" font-family="Liberation Sans, Arial, sans-serif" font-size="10.75">Range within 1.5IQR</text>
<path d="M562 223.9H577" stroke="#222" stroke-width="0.9" fill="none"/>
<text x="585" y="227" font-family="Liberation Sans, Arial, sans-serif" font-size="10.75">Median Line</text>
<circle cx="569.7" cy="236.9" r="5.2" stroke="#222" stroke-width="0.9" fill="none"/>
<text x="585" y="240.6" font-family="Liberation Sans, Arial, sans-serif" font-size="10.75">Max &amp; Min</text>
<path d="M564 244.3L575.4 255.7M564 255.7L575.4 244.3" stroke="#222" stroke-width="0.9" fill="none"/>
<text x="585" y="253.6" font-family="Liberation Sans, Arial, sans-serif" font-size="10.75">99% &amp; 1%</text>
<rect x="564.4" y="258.9" width="10.4" height="9.6" stroke="#222" stroke-width="0.9" fill="none"/>
<text x="585" y="267" font-family="Liberation Sans, Arial, sans-serif" font-size="10.75">Mean</text>
</svg>
</body></html>
